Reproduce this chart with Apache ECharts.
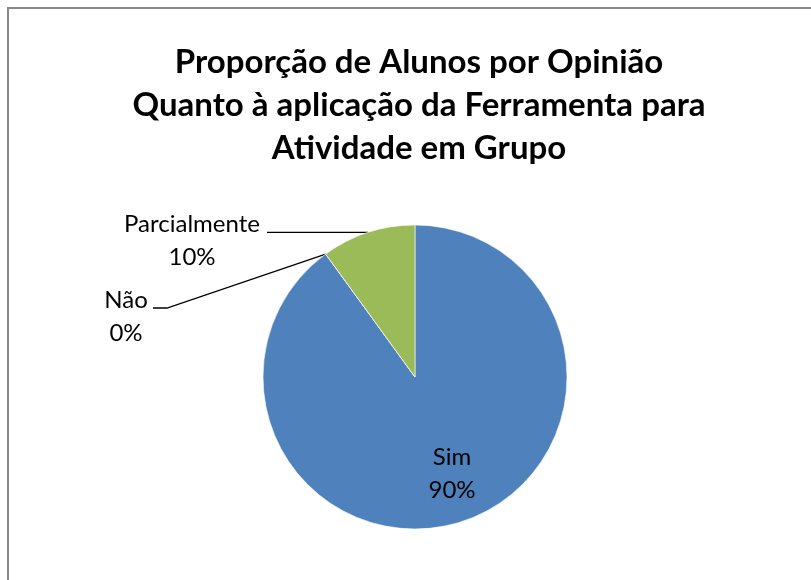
<!DOCTYPE html>
<html lang="pt">
<head>
    <meta charset="UTF-8">
    <title>Proporção de Alunos por Opinião</title>
    <script src="https://cdn.jsdelivr.net/npm/echarts@6/dist/echarts.min.js"></script>
</head>
<body style="margin:0;background:#fff;">
<div id="grafico" style="width: 811px;height:580px;"></div>
<script>
    // dados
    var categorias = ['Sim', 'Não', 'Parcialmente'];
    var valores = [90, 0, 10];
    var cores = ['#4F81BD', '#C0504D', '#9BBB59'];

    var dados = categorias.map(function (nome, i) {
        var item = { name: nome, value: valores[i], itemStyle: { color: cores[i] } };
        if (i === 0) {
            item.label = { position: 'inside' };
        }
        return item;
    });

    var myChart = echarts.init(document.getElementById('grafico'));
    myChart.setOption({
        animation: false,
        backgroundColor: '#fff',
        title: {
            text: 'Proporção de Alunos por Opinião\nQuanto à aplicação da Ferramenta para\nAtividade em Grupo',
            left: 414,
            top: 36,
            textAlign: 'center',
            textStyle: {
                fontFamily: 'Lato',
                fontWeight: 'bold',
                fontSize: 33,
                lineHeight: 43,
                color: '#000'
            }
        },
        graphic: [{
            type: 'rect',
            shape: { x: 8, y: 8, width: 900, height: 700 },
            style: { fill: 'none', stroke: '#8a8a8a', lineWidth: 2 },
            silent: true
        }],
        series: [{
            type: 'pie',
            center: [415, 377],
            radius: 152,
            startAngle: 90,
            clockwise: true,
            avoidLabelOverlap: false,
            percentPrecision: 0,
            data: dados,
            itemStyle: { borderColor: '#fff', borderWidth: 0.6 },
            label: {
                position: 'outside',
                formatter: '{b}\n{d}%',
                fontFamily: 'Lato',
                fontSize: 24,
                lineHeight: 33,
                color: '#000'
            },
            labelLine: {
                show: true,
                lineStyle: { color: '#000', width: 1.3 }
            },
            // posição dos rótulos como no Excel
            labelLayout: function (p) {
                var pts = p.labelLinePoints;
                if (p.dataIndex === 0) {
                    return { x: 452, y: 474, align: 'center', verticalAlign: 'middle' };
                }
                if (p.dataIndex === 1) {
                    return {
                        x: 126, y: 317, align: 'center', verticalAlign: 'middle',
                        labelLinePoints: [pts[0], [167, 308], [153, 308]]
                    };
                }
                return {
                    x: 192, y: 241, align: 'center', verticalAlign: 'middle',
                    labelLinePoints: [pts[0], [267, pts[0][1]], [267, pts[0][1]]]
                };
            }
        }]
    });
</script>
</body>
</html>
